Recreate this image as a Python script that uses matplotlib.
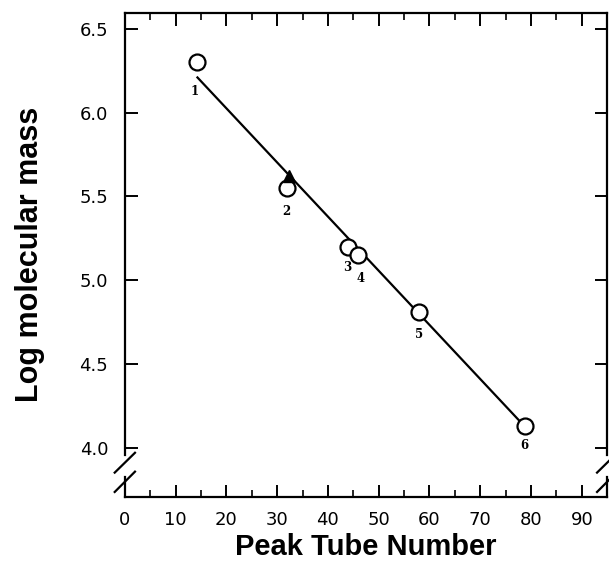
import matplotlib
matplotlib.use("Agg")
import matplotlib.pyplot as plt
from matplotlib.ticker import MultipleLocator

# Data
tube = [14.2, 31.9, 44.0, 45.9, 57.9, 78.9]
logmass = [6.30, 5.55, 5.20, 5.15, 4.81, 4.13]
point_labels = ["1", "2", "3", "4", "5", "6"]
label_offsets = [(-2, -21), (0, -17), (-1, -15), (2, -17), (0, -16), (-1, -14)]
unknown_tube = [32.3]
unknown_logmass = [5.62]
fit_x = [14.3, 79.0]
fit_y = [6.21, 4.12]

fig = plt.figure(figsize=(6.09, 5.62), dpi=100)
ax = fig.add_axes([0.205, 0.116, 0.792, 0.861])

ax.plot(fit_x, fit_y, color="black", lw=1.6, zorder=2)
ax.plot(tube, logmass, linestyle="none", marker="o", markersize=11.5,
        markerfacecolor="white", markeredgecolor="black", markeredgewidth=1.6, zorder=3)
ax.plot(unknown_tube, unknown_logmass, linestyle="none", marker="^", markersize=9,
        color="black", zorder=4)

for x, y, lab, off in zip(tube, logmass, point_labels, label_offsets):
    ax.annotate(lab, (x, y), xytext=off, textcoords="offset points",
                ha="center", va="center", fontsize=8.5, fontweight="bold",
                family="DejaVu Serif")

ax.set_xlim(0, 95)
ax.set_ylim(3.708, 6.595)
ax.xaxis.set_major_locator(MultipleLocator(10))
ax.xaxis.set_minor_locator(MultipleLocator(5))
ax.set_yticks([4.0, 4.5, 5.0, 5.5, 6.0, 6.5])
ax.set_yticklabels(["4.0", "4.5", "5.0", "5.5", "6.0", "6.5"])

ax.tick_params(axis="both", which="major", direction="in", length=9, width=1.4,
               top=True, right=True, labelsize=13)
ax.tick_params(axis="x", which="minor", direction="in", length=5, width=1.2, top=True)
ax.tick_params(axis="x", which="major", pad=10)
ax.tick_params(axis="y", which="major", pad=12)

for s in ["top", "bottom"]:
    ax.spines[s].set_linewidth(1.6)
ax.spines["left"].set_visible(False)
ax.spines["right"].set_visible(False)

# broken y axis spines with break marks
gap_lo, gap_hi = 0.041, 0.087
for xs in (0.0, 1.0):
    ax.plot([xs, xs], [0, gap_lo], transform=ax.transAxes, color="black", lw=1.6, clip_on=False)
    ax.plot([xs, xs], [gap_hi, 1], transform=ax.transAxes, color="black", lw=1.6, clip_on=False)
    ax.plot([xs - 0.021, xs + 0.021], [0.050, 0.091], transform=ax.transAxes,
            color="black", lw=1.6, clip_on=False)
    ax.plot([xs - 0.021, xs + 0.021], [0.010, 0.052], transform=ax.transAxes,
            color="black", lw=1.6, clip_on=False)

ax.set_xlabel("Peak Tube Number", fontsize=21, fontweight="bold",
              family="Liberation Sans", labelpad=3)
ax.set_ylabel("Log molecular mass", fontsize=22, fontweight="bold",
              family="Liberation Sans", labelpad=25)

fig.savefig("out.png", dpi=100)
